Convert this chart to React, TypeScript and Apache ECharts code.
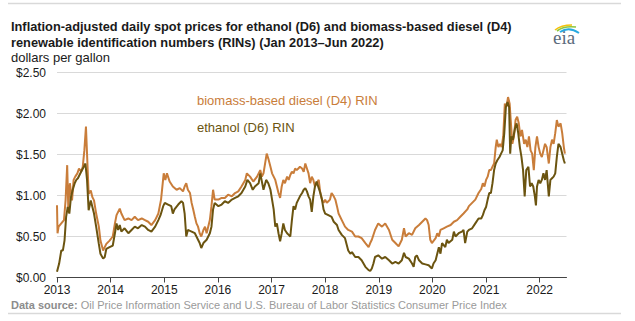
import React, { useEffect, useRef } from 'react';
import * as echarts from 'echarts';

const yearTicks = [2013, 2014, 2015, 2016, 2017, 2018, 2019, 2020, 2021, 2022];

const ethanolDates = [
  2013.00, 2013.04, 2013.08, 2013.11, 2013.14, 2013.17, 2013.20, 2013.23, 2013.26, 2013.29,
  2013.33, 2013.36, 2013.39, 2013.42, 2013.45, 2013.50, 2013.53, 2013.56, 2013.59, 2013.63,
  2013.66, 2013.69, 2013.73, 2013.78, 2013.81, 2013.86, 2013.89, 2013.92, 2013.98, 2014.04,
  2014.08, 2014.11, 2014.14, 2014.17, 2014.20, 2014.26, 2014.33, 2014.39, 2014.45, 2014.51,
  2014.58, 2014.64, 2014.70, 2014.76, 2014.83, 2014.89, 2014.93, 2014.98, 2015.01, 2015.07,
  2015.13, 2015.16, 2015.19, 2015.26, 2015.32, 2015.35, 2015.38, 2015.41, 2015.44, 2015.51,
  2015.57, 2015.63, 2015.66, 2015.69, 2015.73, 2015.79, 2015.85, 2015.88, 2015.91, 2015.94,
  2016.01, 2016.07, 2016.13, 2016.19, 2016.26, 2016.32, 2016.38, 2016.44, 2016.51, 2016.55,
  2016.60, 2016.65, 2016.69, 2016.76, 2016.79, 2016.85, 2016.90, 2016.94, 2016.98, 2017.01,
  2017.04, 2017.07, 2017.10, 2017.13, 2017.16, 2017.19, 2017.22, 2017.25, 2017.29, 2017.32,
  2017.35, 2017.38, 2017.41, 2017.44, 2017.47, 2017.50, 2017.53, 2017.57, 2017.60, 2017.63,
  2017.66, 2017.69, 2017.72, 2017.75, 2017.78, 2017.81, 2017.84, 2017.88, 2017.91, 2017.94,
  2017.97, 2018.00, 2018.06, 2018.12, 2018.16, 2018.22, 2018.25, 2018.31, 2018.37, 2018.43,
  2018.47, 2018.50, 2018.56, 2018.62, 2018.68, 2018.75, 2018.81, 2018.84, 2018.87, 2018.90,
  2018.93, 2018.99, 2019.06, 2019.12, 2019.19, 2019.25, 2019.31, 2019.37, 2019.43, 2019.47,
  2019.50, 2019.56, 2019.62, 2019.65, 2019.68, 2019.71, 2019.75, 2019.81, 2019.87, 2019.93,
  2019.99, 2020.02, 2020.06, 2020.09, 2020.12, 2020.15, 2020.18, 2020.24, 2020.27, 2020.30,
  2020.37, 2020.40, 2020.43, 2020.49, 2020.55, 2020.58, 2020.61, 2020.65, 2020.68, 2020.74,
  2020.80, 2020.86, 2020.91, 2020.94, 2020.97, 2021.00, 2021.03, 2021.06, 2021.09, 2021.12,
  2021.15, 2021.18, 2021.21, 2021.25, 2021.28, 2021.31, 2021.34, 2021.37, 2021.40, 2021.43,
  2021.45, 2021.47, 2021.50, 2021.54, 2021.57, 2021.60, 2021.63, 2021.66, 2021.69, 2021.72,
  2021.75, 2021.79, 2021.82, 2021.85, 2021.88, 2021.91, 2021.93, 2021.95, 2021.98, 2022.01,
  2022.04, 2022.07, 2022.10, 2022.13, 2022.17, 2022.20, 2022.23, 2022.26, 2022.29, 2022.32,
  2022.35, 2022.39, 2022.42, 2022.45, 2022.47,
];
const ethanolValues = [
  0.07, 0.17, 0.33, 0.33, 0.45, 0.74, 0.86, 0.78, 0.98, 1.06,
  1.15, 1.19, 1.21, 1.25, 1.29, 1.35, 1.39, 1.19, 0.82, 0.94,
  0.86, 0.78, 0.62, 0.41, 0.29, 0.23, 0.25, 0.35, 0.37, 0.39,
  0.54, 0.66, 0.58, 0.64, 0.56, 0.60, 0.54, 0.58, 0.62, 0.60,
  0.64, 0.62, 0.58, 0.56, 0.62, 0.70, 0.76, 0.87, 0.91, 0.89,
  0.87, 0.78, 0.83, 0.89, 0.93, 0.91, 0.78, 0.50, 0.58, 0.56,
  0.54, 0.46, 0.42, 0.36, 0.42, 0.46, 0.54, 0.62, 0.83, 0.91,
  0.87, 0.89, 0.93, 0.91, 0.95, 0.97, 0.99, 1.03, 1.11, 1.19,
  1.15, 1.07, 1.11, 1.15, 1.27, 1.07, 1.19, 1.15, 1.07, 0.95,
  0.83, 0.62, 0.66, 0.54, 0.44, 0.54, 0.66, 0.58, 0.54, 0.52,
  0.50, 0.70, 0.87, 0.83, 0.91, 0.95, 0.99, 1.03, 1.07, 1.09,
  1.05, 0.99, 0.95, 0.80, 0.99, 1.11, 1.17, 1.09, 1.03, 0.95,
  0.83, 0.78, 0.76, 0.74, 0.68, 0.64, 0.58, 0.52, 0.48, 0.33,
  0.29, 0.31, 0.25, 0.25, 0.21, 0.13, 0.09, 0.08, 0.11, 0.17,
  0.25, 0.27, 0.23, 0.25, 0.21, 0.17, 0.19, 0.17, 0.21, 0.30,
  0.25, 0.23, 0.17, 0.13, 0.25, 0.27, 0.21, 0.17, 0.16, 0.15,
  0.11, 0.17, 0.21, 0.29, 0.37, 0.29, 0.42, 0.37, 0.46, 0.42,
  0.46, 0.56, 0.50, 0.54, 0.56, 0.58, 0.42, 0.56, 0.58, 0.60,
  0.66, 0.72, 0.72, 0.76, 0.82, 0.86, 0.95, 1.03, 1.03, 1.15,
  1.31, 1.39, 1.43, 1.47, 1.51, 1.55, 1.76, 2.08, 2.14, 2.08,
  1.51, 1.72, 1.68, 1.82, 1.88, 1.76, 1.59, 1.47, 1.31, 0.99,
  1.31, 1.35, 1.11, 1.15, 1.11, 0.99, 0.88, 1.11, 1.19, 1.15,
  1.19, 1.27, 1.19, 1.31, 0.99, 1.19, 1.21, 1.23, 1.27, 1.47,
  1.63, 1.59, 1.51, 1.43, 1.39,
];

const dieselDates = [
  2013.00, 2013.01, 2013.03, 2013.08, 2013.13, 2013.16, 2013.19, 2013.21, 2013.24, 2013.28,
  2013.31, 2013.34, 2013.38, 2013.41, 2013.45, 2013.48, 2013.51, 2013.54, 2013.56, 2013.59,
  2013.63, 2013.66, 2013.69, 2013.73, 2013.78, 2013.81, 2013.86, 2013.89, 2013.92, 2013.98,
  2014.04, 2014.08, 2014.11, 2014.17, 2014.20, 2014.26, 2014.33, 2014.39, 2014.45, 2014.51,
  2014.58, 2014.64, 2014.70, 2014.76, 2014.83, 2014.89, 2014.94, 2014.99, 2015.02, 2015.05,
  2015.10, 2015.16, 2015.23, 2015.29, 2015.35, 2015.38, 2015.41, 2015.44, 2015.48, 2015.51,
  2015.54, 2015.57, 2015.60, 2015.63, 2015.66, 2015.69, 2015.73, 2015.76, 2015.79, 2015.85,
  2015.88, 2015.91, 2015.94, 2016.01, 2016.07, 2016.13, 2016.19, 2016.26, 2016.32, 2016.38,
  2016.44, 2016.51, 2016.54, 2016.60, 2016.66, 2016.73, 2016.79, 2016.82, 2016.85, 2016.91,
  2016.94, 2016.98, 2017.01, 2017.04, 2017.07, 2017.10, 2017.13, 2017.16, 2017.19, 2017.22,
  2017.25, 2017.29, 2017.32, 2017.35, 2017.38, 2017.41, 2017.44, 2017.47, 2017.50, 2017.53,
  2017.57, 2017.60, 2017.63, 2017.66, 2017.69, 2017.72, 2017.75, 2017.78, 2017.81, 2017.84,
  2017.88, 2017.91, 2017.94, 2017.97, 2018.00, 2018.03, 2018.06, 2018.09, 2018.12, 2018.16,
  2018.19, 2018.22, 2018.25, 2018.31, 2018.37, 2018.43, 2018.50, 2018.56, 2018.62, 2018.68,
  2018.75, 2018.81, 2018.84, 2018.87, 2018.93, 2018.99, 2019.06, 2019.12, 2019.19, 2019.25,
  2019.31, 2019.37, 2019.40, 2019.43, 2019.47, 2019.50, 2019.56, 2019.62, 2019.68, 2019.75,
  2019.81, 2019.87, 2019.90, 2019.93, 2019.96, 2019.99, 2020.06, 2020.09, 2020.12, 2020.15,
  2020.21, 2020.27, 2020.34, 2020.40, 2020.46, 2020.52, 2020.58, 2020.65, 2020.68, 2020.74,
  2020.80, 2020.86, 2020.91, 2020.94, 2020.97, 2021.00, 2021.03, 2021.06, 2021.09, 2021.12,
  2021.15, 2021.18, 2021.20, 2021.23, 2021.26, 2021.29, 2021.32, 2021.35, 2021.38, 2021.41,
  2021.44, 2021.46, 2021.49, 2021.52, 2021.55, 2021.58, 2021.61, 2021.64, 2021.67, 2021.71,
  2021.74, 2021.77, 2021.80, 2021.83, 2021.86, 2021.89, 2021.92, 2021.95, 2021.98, 2022.01,
  2022.04, 2022.07, 2022.10, 2022.13, 2022.17, 2022.20, 2022.23, 2022.26, 2022.29, 2022.32,
  2022.35, 2022.39, 2022.42, 2022.45, 2022.47,
];
const dieselValues = [
  0.88, 0.54, 0.62, 0.66, 0.70, 0.94, 1.37, 0.86, 1.15, 0.94,
  1.19, 1.23, 1.27, 1.33, 1.29, 1.35, 1.55, 1.84, 1.51, 1.02,
  1.06, 0.98, 0.94, 0.78, 0.62, 0.45, 0.33, 0.37, 0.41, 0.45,
  0.50, 0.66, 0.76, 0.84, 0.78, 0.70, 0.72, 0.70, 0.74, 0.70,
  0.72, 0.70, 0.68, 0.64, 0.70, 0.78, 0.95, 1.27, 1.19, 1.27,
  1.17, 1.11, 1.07, 1.09, 1.05, 1.11, 1.15, 1.07, 1.03, 0.91,
  0.83, 0.74, 0.66, 0.62, 0.54, 0.50, 0.58, 0.62, 0.54, 0.70,
  0.87, 1.07, 0.95, 0.95, 0.97, 0.97, 1.01, 0.99, 1.03, 1.05,
  1.11, 1.19, 1.27, 1.23, 1.17, 1.23, 1.31, 1.23, 1.27, 1.51,
  1.45, 1.35, 1.27, 1.23, 1.19, 1.11, 1.03, 0.97, 1.11, 1.19,
  1.15, 1.23, 1.19, 1.25, 1.29, 1.27, 1.33, 1.31, 1.33, 1.35,
  1.33, 1.29, 1.39, 1.33, 1.27, 1.15, 1.23, 1.19, 1.11, 1.15,
  1.19, 1.03, 0.95, 0.91, 0.95, 0.91, 0.93, 0.95, 1.03, 0.99,
  0.95, 0.87, 0.78, 0.70, 0.62, 0.58, 0.56, 0.50, 0.50, 0.48,
  0.42, 0.37, 0.42, 0.46, 0.58, 0.66, 0.62, 0.66, 0.58, 0.46,
  0.42, 0.38, 0.42, 0.46, 0.60, 0.50, 0.54, 0.52, 0.60, 0.64,
  0.68, 0.72, 0.70, 0.64, 0.46, 0.42, 0.48, 0.54, 0.50, 0.58,
  0.60, 0.62, 0.64, 0.68, 0.70, 0.74, 0.78, 0.83, 0.87, 0.91,
  0.95, 1.03, 1.08, 1.15, 1.11, 1.19, 1.23, 1.31, 1.31, 1.35,
  1.39, 1.59, 1.68, 1.59, 1.63, 1.59, 1.72, 2.12, 2.08, 2.20,
  2.12, 1.92, 1.63, 1.72, 1.92, 1.96, 1.88, 1.72, 1.80, 1.63,
  1.68, 1.59, 1.72, 1.55, 1.51, 1.31, 1.59, 1.72, 1.59, 1.51,
  1.47, 1.55, 1.63, 1.59, 1.39, 1.59, 1.68, 1.63, 1.76, 1.92,
  1.84, 1.88, 1.76, 1.59, 1.51,
];

const DIESEL_COLOR = '#c97d3a';
const ETHANOL_COLOR = '#6b5410';
const FONT = 'Arial, "Liberation Sans", sans-serif';

export default function App() {
  const ref = useRef<HTMLDivElement>(null);
  useEffect(() => {
    const chart = echarts.init(ref.current as HTMLDivElement, null, { renderer: 'svg' });
    const ethanolData = ethanolDates.map((d, i) => [d, ethanolValues[i]]);
    const dieselData = dieselDates.map((d, i) => [d, dieselValues[i]]);
    chart.setOption({
      animation: false,
      backgroundColor: '#ffffff',
      grid: { left: 57, right: 68.5, top: 72.5, bottom: 43.5, containLabel: false },
      xAxis: {
        type: 'value',
        min: 2013,
        max: 2022.5,
        interval: 1,
        splitLine: { show: false },
        axisLine: { show: true, lineStyle: { color: '#444', width: 1 } },
        axisTick: { show: true, length: 5, lineStyle: { color: '#444' }, customValues: yearTicks },
        axisLabel: {
          customValues: yearTicks,
          formatter: (v: number) => String(Math.round(v)),
          color: '#1a1a1a',
          fontSize: 12,
          fontFamily: FONT,
          margin: 6,
        },
      },
      yAxis: {
        type: 'value',
        min: 0,
        max: 2.5,
        interval: 0.5,
        axisLine: { show: false },
        axisTick: { show: false },
        splitLine: { show: true, lineStyle: { color: '#d9d9d9', width: 1.2 } },
        axisLabel: {
          formatter: (v: number) => '$' + v.toFixed(2),
          color: '#1a1a1a',
          fontSize: 12,
          fontFamily: FONT,
          margin: 11,
        },
      },
      series: [
        {
          name: 'biomass-based diesel (D4) RIN',
          type: 'line',
          data: dieselData,
          showSymbol: false,
          lineStyle: { color: DIESEL_COLOR, width: 2 },
          z: 2,
        },
        {
          name: 'ethanol (D6) RIN',
          type: 'line',
          data: ethanolData,
          showSymbol: false,
          lineStyle: { color: ETHANOL_COLOR, width: 2 },
          z: 3,
        },
      ],
      graphic: [
        { type: 'line', shape: { x1: 8, y1: 3.5, x2: 621, y2: 3.5 }, style: { stroke: '#d9d9d9', lineWidth: 1.5 } },
        { type: 'line', shape: { x1: 8, y1: 313.5, x2: 621, y2: 313.5 }, style: { stroke: '#d9d9d9', lineWidth: 1.5 } },
        {
          type: 'text', x: 11, y: 26,
          style: { text: 'Inflation-adjusted daily spot prices for ethanol (D6) and biomass-based diesel (D4)', font: `bold 12.8px ${FONT}`, fill: '#1a1a1a', verticalAlign: 'middle' },
        },
        {
          type: 'text', x: 11, y: 42,
          style: { text: 'renewable identification numbers (RINs) (Jan 2013\u2013Jun 2022)', font: `bold 12.8px ${FONT}`, fill: '#1a1a1a', verticalAlign: 'middle' },
        },
        {
          type: 'text', x: 11, y: 57,
          style: { text: 'dollars per gallon', font: `13px ${FONT}`, fill: '#1a1a1a', verticalAlign: 'middle' },
        },
        {
          type: 'text', x: 197, y: 100,
          style: { text: 'biomass-based diesel (D4) RIN', font: `13px ${FONT}`, fill: DIESEL_COLOR, verticalAlign: 'middle' },
        },
        {
          type: 'text', x: 197, y: 127,
          style: { text: 'ethanol (D6) RIN', font: `13px ${FONT}`, fill: ETHANOL_COLOR, verticalAlign: 'middle' },
        },
        {
          type: 'text', x: 11, y: 305,
          style: {
            text: '{b|Data source:} Oil Price Information Service and U.S. Bureau of Labor Statistics Consumer Price Index',
            font: `11px ${FONT}`,
            fill: '#9a9a9a',
            verticalAlign: 'middle',
            rich: { b: { fontWeight: 'bold', fontSize: 11, fontFamily: FONT, fill: '#8c8c8c', color: '#8c8c8c' } },
          },
        },
        {
          type: 'text', x: 553, y: 37,
          style: { text: 'eia', font: '19px "Liberation Serif", "DejaVu Serif", serif', fill: '#5b6b7c', verticalAlign: 'middle' },
        },
        { type: 'bezierCurve', shape: { x1: 555, y1: 30, cpx1: 561, cpy1: 25, x2: 572, y2: 25 }, style: { stroke: '#f4c20d', lineWidth: 1.6, fill: null } },
        { type: 'bezierCurve', shape: { x1: 557, y1: 31, cpx1: 564, cpy1: 25.5, x2: 576, y2: 27 }, style: { stroke: '#8dc63f', lineWidth: 1.6, fill: null } },
        { type: 'bezierCurve', shape: { x1: 560, y1: 32, cpx1: 569, cpy1: 26, x2: 579, y2: 33 }, style: { stroke: '#27a9e1', lineWidth: 1.8, fill: null } },
      ],
    });
    return () => chart.dispose();
  }, []);
  return (
    <div
      ref={ref}
      style={{ position: 'absolute', left: 0, top: 0, width: 635, height: 321, background: '#fff' }}
    />
  );
}
